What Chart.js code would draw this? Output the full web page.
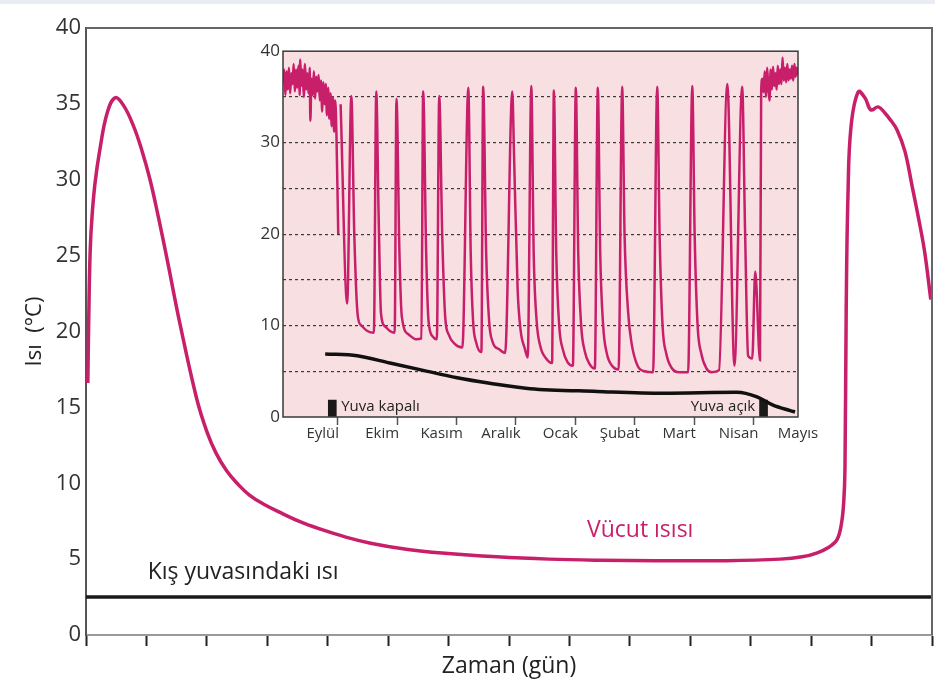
<!DOCTYPE html>
<html lang="tr">
<head>
<meta charset="utf-8">
<script src="https://cdn.jsdelivr.net/npm/chart.js@4.4.1/dist/chart.umd.min.js"></script>
<style>
  html, body { margin: 0; padding: 0; background: #fff; }
  #wrap { position: relative; width: 935px; height: 682px; overflow: hidden; }
  .topband { position: absolute; left: 0; top: 0; width: 935px; height: 4px; background: #e9edf3; }
  #mainChart { position: absolute; left: 0; top: 0; }
  #insetChart { position: absolute; left: 250px; top: 38px; }
</style>
</head>
<body>
<div id="wrap">
  <div class="topband"></div>
  <canvas id="mainChart" width="935" height="682"></canvas>
  <canvas id="insetChart" width="575" height="407"></canvas>
</div>
<script>
// --- ana grafik verisi (x: zaman birimi 0..14) ---
const mainDays = [0.03, 0.05, 0.07, 0.10, 0.15, 0.23, 0.35, 0.48, 0.62, 0.78, 0.92, 1.06, 1.2, 1.35, 1.55, 1.83, 2.0, 2.15, 2.33, 2.5, 2.71, 2.95, 3.25, 3.55, 3.86, 4.3, 4.71, 5.3, 5.89, 6.8, 7.66, 8.5, 9.43, 10.6, 11.49, 11.85, 12.09, 12.3, 12.43, 12.5, 12.54, 12.56, 12.58, 12.61, 12.66, 12.78, 12.89, 12.99, 13.11, 13.22, 13.32, 13.42, 13.55, 13.67, 13.80, 13.88, 13.98];
const mainBody = [16.6, 22.0, 25.4, 27.6, 29.8, 32.0, 34.4, 35.4, 34.9, 33.6, 32.0, 30.0, 27.5, 24.6, 20.6, 15.6, 13.4, 12.0, 10.8, 10.0, 9.2, 8.6, 8.0, 7.45, 7.0, 6.45, 6.05, 5.65, 5.4, 5.15, 5.0, 4.93, 4.9, 4.9, 5.0, 5.15, 5.4, 5.8, 6.3, 7.3, 8.8, 11.0, 21.4, 29.1, 33.5, 35.8, 35.4, 34.6, 34.8, 34.4, 33.9, 33.3, 31.9, 29.6, 27.0, 25.2, 22.1];
const burrowDays = [0, 14];
const burrowTemp = [2.5, 2.5];

// --- iç grafik verisi (x: ay, 0 = Eylül başı) ---
const monthLabels = ['Eylül', 'Ekim', 'Kasım', 'Aralık', 'Ocak', 'Şubat', 'Mart', 'Nisan', 'Mayıs'];
const insetMonths = [
  -0.17, -0.15, -0.13, -0.11, -0.09, -0.07, -0.05, -0.03, -0.01, 0.01, 0.03, 0.05, 0.07, 0.09, 0.11, 0.12,
  0.14, 0.16, 0.18, 0.20, 0.22, 0.24, 0.26, 0.28, 0.29, 0.31, 0.33, 0.35, 0.37, 0.39, 0.41, 0.43, 0.45,
  0.47, 0.49, 0.51, 0.53, 0.55, 0.57, 0.59, 0.61, 0.63, 0.65, 0.67, 0.69, 0.71, 0.73, 0.76, 0.77,
  0.80, 0.91,
  0.98, 1.03, 1.09, 1.15, 1.25, 1.36,
  1.40, 1.44, 1.48, 1.55, 1.63, 1.71,
  1.74, 1.79, 1.83, 1.95, 2.07, 2.16,
  2.19, 2.24, 2.28, 2.35, 2.42,
  2.46, 2.51, 2.56, 2.62, 2.72, 2.85,
  2.95, 2.99, 3.03, 3.08, 3.17,
  3.20, 3.25, 3.30, 3.36, 3.47, 3.57,
  3.69, 3.72, 3.78, 3.83, 3.90, 3.95,
  4.01, 4.05, 4.10, 4.16, 4.26, 4.36,
  4.39, 4.43, 4.48, 4.54, 4.62, 4.71,
  4.76, 4.80, 4.85, 4.91, 4.99, 5.08,
  5.13, 5.17, 5.22, 5.28, 5.37, 5.48,
  5.54, 5.58, 5.64, 5.70, 5.80, 5.92, 6.06,
  6.13, 6.17, 6.22, 6.28, 6.38, 6.50, 6.65,
  6.72, 6.76, 6.81, 6.87, 6.96, 7.05, 7.17,
  7.31, 7.43,
  7.56, 7.61, 7.66, 7.73, 7.78, 7.86,
  7.88, 7.90, 7.92, 7.94, 7.96, 7.98, 8.00, 8.02, 8.04, 8.06, 8.08, 8.10, 8.12, 8.14, 8.16, 8.18, 8.20,
  8.22, 8.24, 8.26, 8.28, 8.30, 8.32, 8.34, 8.36, 8.38, 8.40, 8.42, 8.44, 8.46, 8.48, 8.50
];
const insetBody = [
  36.5, 38.0, 35.2, 37.8, 35.8, 38.2, 35.4, 37.6, 36.4, 38.6, 35.6, 38.0, 36.0, 38.4, 35.2, 39.1,
  36.2, 38.0, 35.0, 38.6, 35.8, 37.6, 35.4, 38.2, 32.4, 37.0, 35.2, 37.8, 34.8, 37.2, 35.6, 37.4, 34.6,
  36.8, 33.4, 36.6, 34.2, 36.4, 33.0, 36.0, 32.6, 35.4, 31.8, 35.0, 31.2, 34.6, 30.8, 20.0, null,
  34.2, 12.4,
  35.1, 20.0, 11.0, 10.0, 9.4, 9.2,
  35.6, 22.0, 11.3, 9.9, 9.4, 9.2,
  34.8, 18.0, 11.0, 9.0, 8.5, 8.6,
  35.6, 18.0, 10.5, 8.8, 8.5,
  35.1, 20.0, 11.0, 9.0, 8.0, 7.6,
  36.0, 18.0, 10.5, 8.2, 7.1,
  36.1, 18.0, 10.5, 8.2, 7.4, 7.0,
  35.6, 28.5, 14.0, 9.5, 7.5, 6.5,
  36.2, 18.0, 10.5, 7.8, 6.4, 5.9,
  35.7, 18.0, 10.0, 7.4, 6.0, 5.6,
  36.0, 18.0, 10.0, 7.2, 5.8, 5.3,
  36.0, 18.0, 10.0, 7.0, 5.6, 5.2,
  36.1, 20.0, 11.5, 8.0, 5.6, 5.0, 4.9,
  36.1, 20.0, 10.0, 7.0, 5.3, 4.9, 4.9,
  36.2, 20.0, 10.0, 7.0, 5.3, 4.9, 5.1,
  36.4, 5.6,
  36.1, 20.0, 6.7, 6.4, 15.9, 6.2,
  35.6, 37.0, 35.5, 37.8, 35.0, 38.2, 36.0, 34.6, 38.0, 35.8, 38.3, 36.2, 37.6, 35.8, 38.4, 36.4, 38.0,
  36.4, 39.3, 36.8, 38.2, 36.6, 38.6, 36.8, 38.0, 37.0, 38.4, 36.8, 38.6, 37.2, 38.2, 37.4
];
const insetBurrowMonths = [0.54, 1.08, 1.63, 2.19, 2.76, 3.31, 3.99, 5.12, 6.23, 7.47, 7.81, 8.08, 8.37, 8.45];
const insetBurrowTemp = [6.9, 6.7, 5.9, 5.1, 4.3, 3.7, 3.1, 2.8, 2.6, 2.7, 2.2, 1.3, 0.7, 0.55];
const nestEventMonths = [0.66, 7.92];
const nestEventHeight = [1.84, 1.84];

const FONT = '"Open Sans", "Noto Sans", sans-serif';
const PINK = '#c81f6a';

function pairs(xs, ys) {
    return xs.map((x, i) => ({ x: x, y: ys[i] }));
}

// yazılar (veri koordinatlarında)
const mainNotes = [
    { text: 'Kış yuvasındaki ısı', x: 1.02, y: 4.15, color: '#222', align: 'left', size: 23 },
    { text: 'Vücut ısısı', x: 8.29, y: 6.9, color: PINK, align: 'left', size: 23 }
];
const insetNotes = [
    { text: 'Yuva kapalı', x: 0.81, y: 1.08, color: '#222', align: 'left', size: 15 },
    { text: 'Yuva açık', x: 7.78, y: 1.08, color: '#222', align: 'right', size: 15 }
];

const notesPlugin = {
    id: 'notes',
    afterDatasetsDraw(chart, args, opts) {
        const ctx = chart.ctx;
        ctx.save();
        (opts.items || []).forEach(n => {
            ctx.font = n.size + 'px ' + FONT;
            ctx.fillStyle = n.color;
            ctx.textAlign = n.align;
            ctx.textBaseline = 'middle';
            ctx.fillText(n.text, chart.scales.x.getPixelForValue(n.x), chart.scales.y.getPixelForValue(n.y));
        });
        ctx.restore();
    }
};

const frameMain = {
    id: 'frameMain',
    afterDraw(chart) {
        const { ctx, chartArea: a } = chart;
        ctx.save();
        ctx.strokeStyle = '#666';
        ctx.lineWidth = 2;
        ctx.beginPath();
        ctx.moveTo(a.left, a.top);
        ctx.lineTo(a.right, a.top);
        ctx.lineTo(a.right, a.bottom);
        ctx.stroke();
        ctx.restore();
    }
};

const insetBg = {
    id: 'insetBg',
    beforeDraw(chart) {
        const { ctx, chartArea: a } = chart;
        ctx.save();
        ctx.fillStyle = '#f8dfe1';
        ctx.fillRect(a.left, a.top, a.right - a.left, a.bottom - a.top);
        ctx.restore();
    },
    afterDraw(chart) {
        const { ctx, chartArea: a } = chart;
        ctx.save();
        ctx.strokeStyle = '#3a3a3a';
        ctx.lineWidth = 1.5;
        ctx.strokeRect(a.left, a.top, a.right - a.left, a.bottom - a.top);
        ctx.restore();
    }
};

new Chart(document.getElementById('mainChart'), {
    type: 'line',
    data: {
        datasets: [
            {
                data: pairs(mainDays, mainBody),
                borderColor: PINK,
                borderWidth: 3.5,
                pointRadius: 0,
                tension: 0.4
            },
            {
                data: pairs(burrowDays, burrowTemp),
                borderColor: '#1a1a1a',
                borderWidth: 3.5,
                pointRadius: 0
            }
        ]
    },
    options: {
        responsive: false,
        animation: false,
        layout: { padding: { top: 28, right: 1, left: 0, bottom: 2 } },
        plugins: {
            legend: { display: false },
            tooltip: { enabled: false },
            notes: { items: mainNotes }
        },
        scales: {
            x: {
                type: 'linear',
                min: 0,
                max: 14,
                afterFit: (s) => { s.height = 45; },
                ticks: { stepSize: 1, callback: () => '', autoSkip: false },
                grid: { drawOnChartArea: false, tickLength: 11, tickColor: '#222', tickWidth: 2 },
                border: { color: '#999', width: 2 },
                title: {
                    display: true,
                    text: 'Zaman (gün)',
                    color: '#222',
                    font: { family: FONT, size: 23 },
                    padding: { top: 0, bottom: 0 }
                }
            },
            y: {
                min: 0,
                max: 40,
                afterFit: (s) => { s.width = 86; },
                ticks: { stepSize: 5, color: '#333', padding: 5, font: { family: FONT, size: 22 } },
                grid: { drawOnChartArea: false, drawTicks: false },
                border: { color: '#555', width: 2 },
                title: {
                    display: true,
                    text: 'Isı  (°C)',
                    color: '#222',
                    font: { family: FONT, size: 22 },
                    padding: { top: 22, bottom: 0 }
                }
            }
        }
    },
    plugins: [notesPlugin, frameMain]
});

new Chart(document.getElementById('insetChart'), {
    type: 'line',
    data: {
        datasets: [
            {
                data: pairs(insetMonths, insetBody),
                borderColor: PINK,
                borderWidth: 2.5,
                pointRadius: 0,
                spanGaps: false,
                cubicInterpolationMode: 'monotone'
            },
            {
                data: pairs(insetBurrowMonths, insetBurrowTemp),
                borderColor: '#111',
                borderWidth: 3.5,
                pointRadius: 0,
                cubicInterpolationMode: 'monotone'
            },
            {
                type: 'bar',
                data: pairs(nestEventMonths, nestEventHeight),
                backgroundColor: '#1a1a1a',
                barThickness: 8,
                grouped: false
            }
        ]
    },
    options: {
        responsive: false,
        animation: false,
        layout: { padding: { top: 9, right: 27, left: 0, bottom: 0 } },
        plugins: {
            legend: { display: false },
            tooltip: { enabled: false },
            notes: { items: insetNotes }
        },
        scales: {
            x: {
                type: 'linear',
                min: -0.17,
                max: 8.5,
                offset: false,
                afterFit: (s) => { s.height = 28; },
                afterBuildTicks: (s) => {
                    const t = [];
                    monthLabels.forEach((m, i) => { t.push({ value: i }); t.push({ value: i + 0.5 }); });
                    s.ticks = t;
                },
                ticks: {
                    autoSkip: false,
                    maxRotation: 0,
                    padding: 0,
                    color: '#333',
                    font: { family: FONT, size: 15 },
                    callback: (v) => Number.isInteger(v) ? '' : monthLabels[Math.floor(v)]
                },
                grid: {
                    drawOnChartArea: false,
                    tickLength: 8,
                    tickWidth: 1.5,
                    tickColor: (c) => (c.tick && Number.isInteger(c.tick.value)) ? '#555' : 'rgba(0,0,0,0)'
                },
                border: { display: false }
            },
            y: {
                min: 0,
                max: 40,
                afterFit: (s) => { s.width = 33; },
                ticks: {
                    stepSize: 5,
                    padding: 3,
                    color: '#333',
                    font: { family: FONT, size: 17 },
                    callback: (v) => v % 10 === 0 ? v : ''
                },
                grid: {
                    drawTicks: false,
                    lineWidth: 1.2,
                    color: (c) => (c.tick && (c.tick.value === 0 || c.tick.value === 40)) ? 'rgba(0,0,0,0)' : '#3a3a3a'
                },
                border: { display: false, dash: [3, 3] }
            }
        }
    },
    plugins: [insetBg, notesPlugin]
});
</script>
</body>
</html>
